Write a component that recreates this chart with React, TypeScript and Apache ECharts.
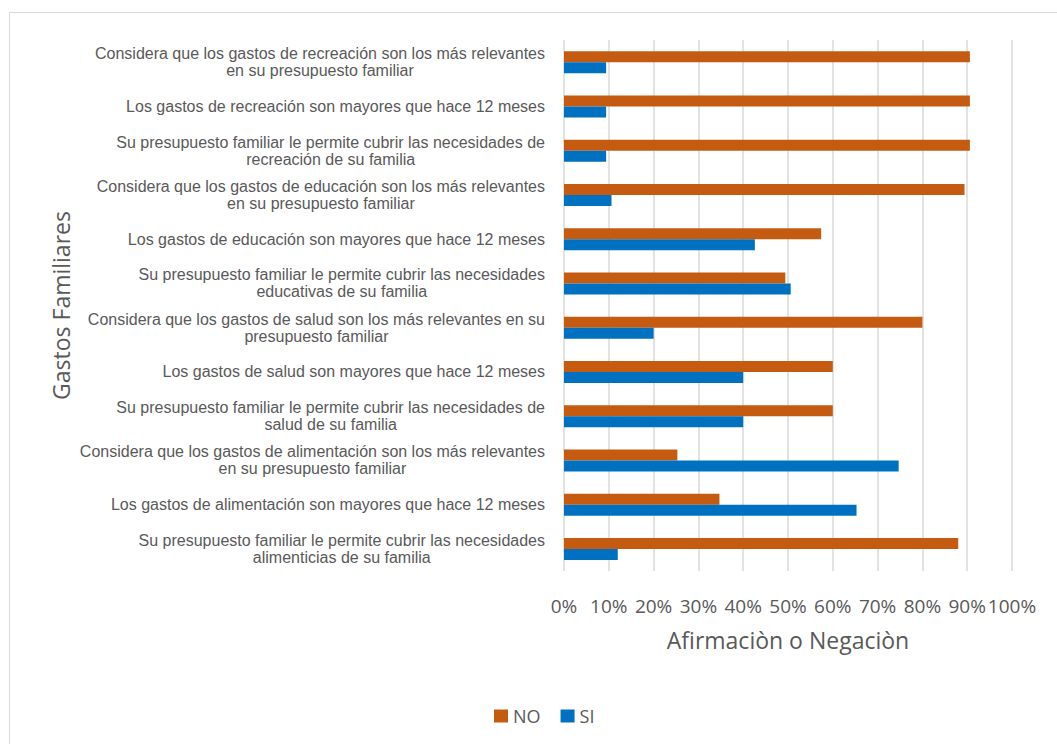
import React, { useEffect, useRef } from "react";
import * as echarts from "echarts";

const categories: string[] = [
  "Considera que los gastos de recreación son los más relevantes\nen su presupuesto familiar",
  "Los gastos de recreación son mayores que hace 12 meses",
  "Su presupuesto familiar le permite cubrir las necesidades de\nrecreación de su familia",
  "Considera que los gastos de educación son los más relevantes\nen su presupuesto familiar",
  "Los gastos de educación son mayores que hace 12 meses",
  "Su presupuesto familiar le permite cubrir las necesidades\neducativas de su familia",
  "Considera que los gastos de salud son los más relevantes en su\npresupuesto familiar",
  "Los gastos de salud son mayores que hace 12 meses",
  "Su presupuesto familiar le permite cubrir las necesidades de\nsalud de su familia",
  "Considera que los gastos de alimentación son los más relevantes\nen su presupuesto familiar",
  "Los gastos de alimentación son mayores que hace 12 meses",
  "Su presupuesto familiar le permite cubrir las necesidades\nalimenticias de su familia",
];

const noValues: number[] = [0.906, 0.906, 0.906, 0.894, 0.574, 0.494, 0.8, 0.6, 0.6, 0.253, 0.347, 0.88];
const siValues: number[] = [0.094, 0.094, 0.094, 0.106, 0.426, 0.506, 0.2, 0.4, 0.4, 0.747, 0.653, 0.12];

const seriesNames: string[] = ["NO", "SI"];
const xAxisTitle = "Afirmaciòn o Negaciòn";
const yAxisTitle = "Gastos Familiares";

export default function App() {
  const ref = useRef<HTMLDivElement>(null);
  useEffect(() => {
    if (!ref.current) return;
    const chart = echarts.init(ref.current, undefined, { renderer: "svg" });
    const sans = "'Open Sans', 'Noto Sans', sans-serif";
    chart.setOption({
      animation: false,
      backgroundColor: "#ffffff",
      graphic: [
        {
          type: "rect",
          shape: { x: 9.5, y: 12.5, width: 1100, height: 800 },
          style: { fill: "none", stroke: "#D9D9D9", lineWidth: 1 },
          silent: true,
        },
      ],
      grid: { left: 564, right: 45, top: 40, bottom: 173, containLabel: false },
      legend: {
        data: seriesNames,
        left: 489,
        top: 702,
        itemWidth: 14,
        itemHeight: 13,
        itemGap: 20,
        icon: "rect",
        textStyle: { fontFamily: sans, fontSize: 18, color: "#595959" },
      },
      xAxis: {
        type: "value",
        min: 0,
        max: 1,
        interval: 0.1,
        name: xAxisTitle,
        nameLocation: "middle",
        nameGap: 57,
        nameTextStyle: { fontFamily: sans, fontSize: 23, color: "#595959" },
        axisLine: { show: false },
        axisTick: { show: false },
        axisLabel: {
          fontFamily: sans,
          fontSize: 19,
          color: "#595959",
          margin: 25,
          formatter: (v: number) => `${Math.round(v * 100)}%`,
        },
        splitLine: { lineStyle: { color: "#D9D9D9", width: 1.5 } },
      },
      yAxis: {
        type: "category",
        data: categories,
        inverse: true,
        name: yAxisTitle,
        nameLocation: "middle",
        nameGap: 492,
        nameRotate: 90,
        nameTextStyle: { fontFamily: sans, fontSize: 23, color: "#595959" },
        axisLine: { show: false },
        axisTick: { show: false },
        axisLabel: {
          margin: 19,
          formatter: (v: string) =>
            v
              .split("\n")
              .map((l) => `{c|${l}}`)
              .join("\n"),
          rich: {
            c: {
              align: "center",
              fontFamily: "'Liberation Sans', Arial, sans-serif",
              fontSize: 16,
              lineHeight: 17,
              color: "#595959",
            },
          },
        },
      },
      series: [
        {
          name: seriesNames[0],
          type: "bar",
          data: noValues,
          barWidth: 11,
          barGap: "0%",
          itemStyle: { color: "#C55A11" },
        },
        {
          name: seriesNames[1],
          type: "bar",
          data: siValues,
          barWidth: 11,
          barGap: "0%",
          itemStyle: { color: "#0070C0" },
        },
      ],
    });
    return () => chart.dispose();
  }, []);
  return (
    <div
      ref={ref}
      style={{ position: "fixed", left: 0, top: 0, width: 1057, height: 744 }}
    />
  );
}
